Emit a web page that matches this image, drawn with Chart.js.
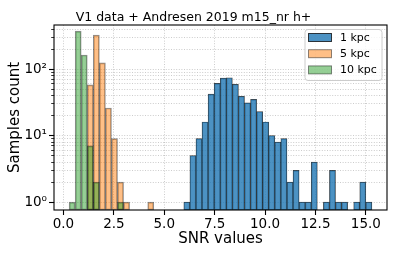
<!DOCTYPE html>
<html>
<head>
<meta charset="utf-8">
<script src="https://cdn.jsdelivr.net/npm/chart.js@4.4.1/dist/chart.umd.min.js"></script>
<style>
  html, body { margin: 0; padding: 0; background: #fff; }
</style>
</head>
<body>
<canvas id="snrChart" width="393" height="255"></canvas>
<script>
// --- histogram data (counts per SNR bin) ---
const bins1kpc = { start: 5.97, width: 0.301 };
const counts1kpc = [1, 5, 9, 16, 42, 61, 73, 74, 59, 39, 31, 35, 23, 16, 10, 8, 9, 2, 3, 1, 1, 4, 0, 1, 3, 1, 1, 0, 1, 2, 1];
const bins5kpc = { start: 1.18, width: 0.3 };
const counts5kpc = [58, 324, 124, 26, 9, 2, 1, 0, 0, 0, 1];
const bins10kpc = { start: 0.28, width: 0.3 };
const counts10kpc = [1, 373, 163, 7, 2, 0, 0, 0, 1];

const seriesLabels = ['1 kpc', '5 kpc', '10 kpc'];
const xTicks = [0, 2.5, 5, 7.5, 10, 12.5, 15];
const yTicks = [1, 2, 3, 4, 5, 6, 7, 8, 9, 10, 20, 30, 40, 50, 60, 70, 80, 90, 100, 200, 300, 400];
const yTickLabels = { 1: '10\u2070', 10: '10\u00b9', 100: '10\u00b2' };

const fillColors = ['rgba(31,119,180,0.8)', 'rgba(255,127,14,0.5)', 'rgba(44,160,44,0.5)'];
const edgeColors = ['rgba(0,0,0,0.75)', 'rgba(0,0,0,0.45)', 'rgba(0,0,0,0.45)'];

// bin centres -> {x, y}, empty bins left out (log axis)
function histPoints(bins, counts) {
    const pts = [];
    counts.forEach((c, i) => {
        if (c > 0) pts.push({ x: Math.round((bins.start + bins.width * (i + 0.5)) * 1000) / 1000, y: c });
    });
    return pts;
}

// frame + legend drawn on top of the bars
const frameAndLegend = {
    id: 'frameAndLegend',
    afterDatasetsDraw(chart) {
        const { ctx, chartArea: a } = chart;
        ctx.save();
        ctx.strokeStyle = '#000';
        ctx.lineWidth = 1.1;
        ctx.strokeRect(a.left, a.top, a.right - a.left, a.bottom - a.top);

        // legend box
        const lx = a.right - 82, ly = a.top + 4.5, lw = 77, lh = 51, r = 3;
        ctx.beginPath();
        ctx.moveTo(lx + r, ly);
        ctx.arcTo(lx + lw, ly, lx + lw, ly + lh, r);
        ctx.arcTo(lx + lw, ly + lh, lx, ly + lh, r);
        ctx.arcTo(lx, ly + lh, lx, ly, r);
        ctx.arcTo(lx, ly, lx + lw, ly, r);
        ctx.closePath();
        ctx.fillStyle = 'rgba(255,255,255,0.8)';
        ctx.fill();
        ctx.strokeStyle = '#cccccc';
        ctx.lineWidth = 1;
        ctx.stroke();

        ctx.font = '11px "DejaVu Sans"';
        ctx.textBaseline = 'middle';
        ctx.textAlign = 'left';
        seriesLabels.forEach((lab, i) => {
            const cy = ly + 8 + i * 16.2;
            ctx.fillStyle = fillColors[i];
            ctx.fillRect(lx + 3.5, cy - 4, 23, 8);
            ctx.strokeStyle = edgeColors[i];
            ctx.lineWidth = 1;
            ctx.strokeRect(lx + 3.5, cy - 4, 23, 8);
            ctx.fillStyle = '#000';
            ctx.fillText(lab, lx + 35, cy + 0.5);
        });
        ctx.restore();
    }
};

const datasets = [
    { label: seriesLabels[0], data: histPoints(bins1kpc, counts1kpc), order: 3, borderWidth: 0.7 },
    { label: seriesLabels[1], data: histPoints(bins5kpc, counts5kpc), order: 2, borderWidth: 1 },
    { label: seriesLabels[2], data: histPoints(bins10kpc, counts10kpc), order: 1, borderWidth: 1 }
].map((d, i) => Object.assign(d, {
    backgroundColor: fillColors[i],
    borderColor: edgeColors[i],
    borderSkipped: false,
    barPercentage: 1,
    categoryPercentage: 1,
    grouped: false
}));

const gridColor = 'rgba(170,170,170,0.75)';

new Chart(document.getElementById('snrChart'), {
    type: 'bar',
    data: { datasets: datasets },
    options: {
        responsive: false,
        animation: false,
        devicePixelRatio: 1,
        layout: { padding: { left: 0, right: 6, top: 0, bottom: 0 } },
        plugins: {
            legend: { display: false },
            tooltip: { enabled: false },
            title: {
                display: true,
                text: 'V1 data + Andresen 2019 m15_nr h+',
                color: '#000',
                font: { family: 'DejaVu Sans', size: 12.5, weight: 'normal', lineHeight: 1.1 },
                padding: { top: 10.5, bottom: 0.75 }
            }
        },
        scales: {
            x: {
                type: 'linear',
                offset: false,
                min: -0.47,
                max: 16.05,
                afterBuildTicks: (scale) => { scale.ticks = xTicks.map(v => ({ value: v })); },
                afterFit: (scale) => { scale.height = 45; },
                ticks: {
                    color: '#000',
                    font: { family: 'DejaVu Sans', size: 13.5 },
                    padding: 1,
                    maxRotation: 0,
                    autoSkip: false,
                    callback: (v) => Number(v).toFixed(1)
                },
                grid: { offset: false, color: gridColor, lineWidth: 0.8, tickLength: 5, tickColor: '#000', tickWidth: 1.1 },
                border: { display: false, dash: [1, 1.6] },
                title: {
                    display: true,
                    text: 'SNR values',
                    color: '#000',
                    font: { family: 'DejaVu Sans', size: 15 },
                    padding: { top: 0, bottom: 7 }
                }
            },
            y: {
                type: 'logarithmic',
                min: 0.76,
                max: 460,
                afterBuildTicks: (scale) => { scale.ticks = yTicks.map(v => ({ value: v })); },
                afterFit: (scale) => { scale.width = 54; },
                ticks: {
                    color: '#000',
                    font: { family: 'DejaVu Sans', size: 13.5 },
                    padding: 2,
                    autoSkip: false,
                    callback: (v) => yTickLabels[v] || ''
                },
                grid: {
                    color: gridColor,
                    lineWidth: 0.8,
                    tickLength: 5,
                    tickColor: '#000',
                    tickWidth: (c) => (yTickLabels[c.tick && c.tick.value] ? 1.1 : 0.8),
                    tickBorderDash: (c) => (yTickLabels[c.tick && c.tick.value] ? [] : [0, 2.2, 2.8, 10])
                },
                border: { display: false, dash: [1, 1.6] },
                title: {
                    display: true,
                    text: 'Samples count',
                    color: '#000',
                    font: { family: 'DejaVu Sans', size: 15 },
                    padding: { top: 6, bottom: 0 }
                }
            }
        }
    },
    plugins: [frameAndLegend]
});
</script>
</body>
</html>
